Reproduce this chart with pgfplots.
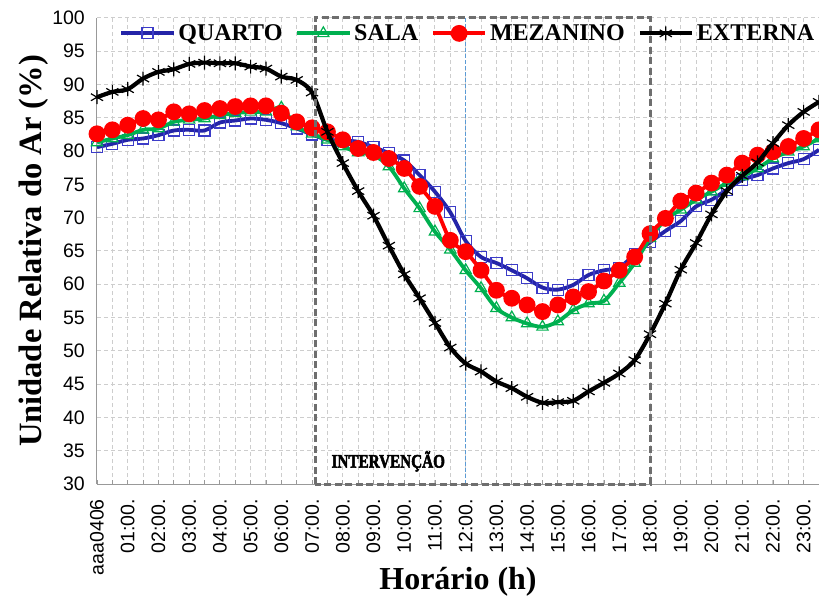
\documentclass[border=0pt]{standalone}
\usepackage{fontspec}
\setmainfont{Liberation Serif}
\setsansfont{Liberation Sans}
\newfontfamily\interfont[FakeBold=3]{Liberation Serif Bold}
\usepackage{pgfplots}
\usepackage{pgfplotstable}
\pgfplotsset{compat=1.18}
\usetikzlibrary{calc}
\definecolor{qline}{RGB}{36,36,168}
\definecolor{qmark}{RGB}{60,60,200}
\definecolor{sala}{RGB}{0,176,80}
\definecolor{boxgray}{RGB}{110,110,110}
\definecolor{vblue}{RGB}{91,155,213}
\definecolor{gridc}{RGB}{205,205,205}

\pgfplotstableread{
h q s m e
0 80.6 81.3 82.6 88.1
0.5 81.1 81.9 83.2 88.9
1 81.7 82.4 83.9 89.3
1.5 81.9 83.2 84.9 90.9
2 82.4 83.4 84.7 91.9
2.5 83.1 84.4 85.9 92.3
3 83.2 84.7 85.6 93.1
3.5 83.1 84.9 86.1 93.3
4 84.3 85.4 86.4 93.2
4.5 84.6 85.7 86.7 93.2
5 84.9 85.9 86.8 92.7
5.5 84.7 85.9 86.8 92.4
6 84.2 86.5 85.7 91.2
6.5 83.4 83.7 84.4 90.7
7 82.5 82.6 83.5 88.8
7.5 81.7 81.7 82.9 82.9
8 81.6 80.7 81.7 78.2
8.5 81.4 79.8 80.4 74.0
9 80.6 79.4 79.8 70.3
9.5 79.7 77.7 78.9 65.8
10 78.6 74.4 77.4 61.5
10.5 76.4 71.4 74.7 57.9
11 73.9 67.9 71.7 54.2
11.5 70.8 65.2 66.6 50.5
12 66.5 62.1 64.9 48.1
12.5 64.1 59.4 62.1 46.9
13 63.2 56.4 59.1 45.4
13.5 62.1 55.0 57.9 44.4
14 60.9 54.1 56.9 43.1
14.5 59.5 53.6 55.9 42.2
15 59.2 54.4 56.9 42.3
15.5 59.9 56.1 58.1 42.5
16 61.4 57.1 58.9 43.9
16.5 62.1 57.5 60.5 45.2
17 62.5 60.2 62.1 46.6
17.5 64.5 63.2 64.1 48.6
18 66.3 66.9 67.6 52.5
18.5 68.0 69.7 69.9 57.1
19 69.5 71.2 72.5 62.2
19.5 71.7 72.7 73.7 66.2
20 72.7 73.9 75.2 70.5
20.5 74.2 75.2 76.4 74.0
21 75.7 76.2 78.2 76.3
21.5 76.4 77.4 79.4 78.3
22 77.4 78.9 79.9 81.2
22.5 78.2 79.9 80.7 83.9
23 78.8 80.7 81.9 85.9
23.5 80.2 81.9 83.2 87.4
}\data

\begin{document}
\begin{tikzpicture}
\begin{axis}[name=ax, at={(0,0)}, anchor=south west,
  width=722pt, height=466pt, scale only axis,
  xmin=0, xmax=23.5, ymin=30, ymax=100,
  xtick={0,...,23},
  xticklabels={aaa0406,01:00.,02:00.,03:00.,04:00.,05:00.,06:00.,07:00.,08:00.,09:00.,10:00.,11:00.,12:00.,13:00.,14:00.,15:00.,16:00.,17:00.,18:00.,19:00.,20:00.,21:00.,22:00.,23:00.},
  ytick={30,35,...,100},
  minor x tick num=1,
  grid=both,
  grid style={dash pattern=on 4pt off 3pt, gridc, line width=1pt},
  major grid style={dash pattern=on 4pt off 3pt, gridc, line width=1pt},
  minor grid style={dash pattern=on 4pt off 3pt, gridc, line width=1pt},
  clip mode=individual,
  axis x line*=bottom, axis y line*=left,
  axis line style={-, draw=gray!80, line width=1pt},
  tick align=inside, major tick length=4pt, minor tick length=4pt,
  xtick style={draw=gray!80, line width=0.8pt},
  ytick style={draw=none},
  /pgf/number format/assume math mode=true,
  xticklabel style={rotate=90, anchor=east, inner sep=0pt, font=\sffamily\fontsize{19.5}{21}\selectfont},
  xticklabel shift=15pt,
  yticklabel style={anchor=east, inner sep=0pt, font=\sffamily\fontsize{19.5}{21}\selectfont},
  yticklabel shift=12pt,
  xlabel={Horário (h)}, ylabel={Unidade Relativa do Ar (\%)},
  every axis x label/.style={at={(axis description cs:0.5,-0.21)}, anchor=center, font=\bfseries\fontsize{32}{36}\selectfont},
  every axis y label/.style={at={(axis description cs:-0.087,0.5)}, rotate=90, anchor=center, font=\bfseries\fontsize{32.5}{36}\selectfont},
  legend columns=4,
  legend style={at={(axis description cs:0.031,0.967)}, anchor=west, draw=none, fill=none,
    font=\bfseries\fontsize{24}{26}\selectfont, inner sep=0pt,
    nodes={inner xsep=3pt, inner ysep=1pt},
    /tikz/every even column/.append style={column sep=10pt}},
  legend cell align=left,
  legend image code/.code={\draw[mark repeat=2, mark phase=2, #1] plot coordinates {(0pt,0pt) (26pt,0pt) (52pt,0pt)};},
]
\draw[vblue, line width=1.4pt, dash pattern=on 4pt off 2pt] (axis cs:12,30) -- (axis cs:12,100);

\addplot[qline, line width=3.8pt, smooth, mark=square, mark size=5.5pt,
  mark options={draw=qmark, fill=none, solid, line width=1.2pt}] table[x=h,y=q]{\data};
\addlegendentry{QUARTO}
\addplot[sala, line width=3.8pt, smooth, mark=triangle, mark size=6.5pt,
  mark options={draw=sala, fill=none, solid, line width=1.2pt}] table[x=h,y=s]{\data};
\addlegendentry{SALA}
\addplot[red, line width=3.8pt, smooth, mark=*, mark size=6.5pt,
  mark options={draw=red, fill=red, solid}] table[x=h,y=m]{\data};
\addlegendentry{MEZANINO}
\addplot[black, line width=4.2pt, smooth, mark=asterisk, mark size=7pt,
  mark options={draw=black, solid, line width=1.2pt}] table[x=h,y=e]{\data};
\addlegendentry{EXTERNA}

\draw[boxgray, line width=3pt, dash pattern=on 7pt off 3.5pt] (axis cs:7.1,30) rectangle (axis cs:18,100);
\node[font=\interfont\fontsize{19}{21}\selectfont, xscale=0.8] at (axis cs:9.48,33.4) {INTERVENÇÃO};
\end{axis}
\pgfresetboundingbox
\path[use as bounding box] ($(ax.south west)+(-97pt,-121pt)$) rectangle ($(ax.north east)+(0pt,18pt)$);
\end{tikzpicture}
\end{document}
